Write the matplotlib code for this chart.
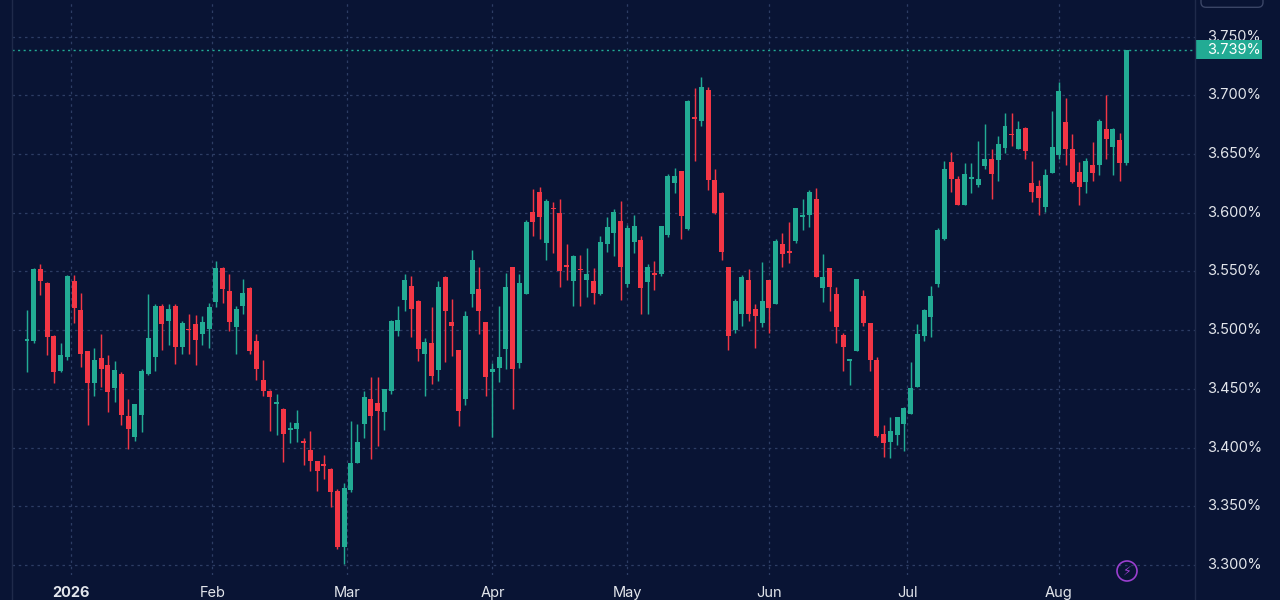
import matplotlib
matplotlib.use("Agg")
import matplotlib.pyplot as plt
import numpy as np
from matplotlib.patches import Rectangle, Circle, FancyBboxPatch
from matplotlib.lines import Line2D
from matplotlib.transforms import IdentityTransform

# ---------------- data (daily candles, yield in %) ----------------
opens = [3.491, 3.491, 3.552, 3.540, 3.495, 3.465, 3.477, 3.542, 3.517, 3.482,
         3.455, 3.476, 3.470, 3.451, 3.463, 3.427, 3.409, 3.428, 3.463, 3.477,
         3.521, 3.508, 3.521, 3.486, 3.501, 3.505, 3.497, 3.501, 3.524, 3.553,
         3.533, 3.503, 3.521, 3.536, 3.491, 3.458, 3.448, 3.437, 3.433, 3.415,
         3.416, 3.406, 3.398, 3.389, 3.386, 3.382, 3.363, 3.315, 3.364, 3.387,
         3.420, 3.441, 3.438, 3.430, 3.448, 3.499, 3.526, 3.538, 3.525, 3.480,
         3.489, 3.466, 3.545, 3.507, 3.483, 3.441, 3.531, 3.535, 3.507, 3.464,
         3.468, 3.484, 3.554, 3.472, 3.531, 3.601, 3.618, 3.574, 3.604, 3.600,
         3.555, 3.542, 3.552, 3.543, 3.542, 3.531, 3.573, 3.583, 3.593, 3.539,
         3.575, 3.577, 3.541, 3.549, 3.548, 3.581, 3.625, 3.636, 3.586, 3.682,
         3.678, 3.705, 3.628, 3.617, 3.554, 3.500, 3.514, 3.543, 3.518, 3.506,
         3.543, 3.522, 3.573, 3.567, 3.576, 3.596, 3.598, 3.612, 3.536, 3.553,
         3.531, 3.496, 3.474, 3.482, 3.529, 3.506, 3.475, 3.412, 3.405, 3.411,
         3.420, 3.429, 3.452, 3.495, 3.511, 3.539, 3.578, 3.643, 3.629, 3.607,
         3.629, 3.624, 3.640, 3.646, 3.645, 3.655, 3.667, 3.654, 3.672, 3.625,
         3.623, 3.605, 3.634, 3.649, 3.677, 3.654, 3.635, 3.626, 3.641, 3.641,
         3.671, 3.656, 3.662, 3.642]
highs = [3.517, 3.553, 3.556, 3.541, 3.496, 3.489, 3.547, 3.547, 3.532, 3.482,
         3.485, 3.497, 3.479, 3.474, 3.464, 3.441, 3.437, 3.467, 3.531, 3.522,
         3.522, 3.522, 3.522, 3.508, 3.514, 3.513, 3.512, 3.523, 3.559, 3.554,
         3.548, 3.521, 3.544, 3.537, 3.497, 3.475, 3.449, 3.446, 3.434, 3.422,
         3.432, 3.408, 3.414, 3.389, 3.394, 3.383, 3.365, 3.370, 3.423, 3.420,
         3.448, 3.460, 3.460, 3.450, 3.509, 3.521, 3.548, 3.546, 3.526, 3.493,
         3.520, 3.542, 3.546, 3.527, 3.483, 3.516, 3.568, 3.554, 3.507, 3.472,
         3.521, 3.549, 3.554, 3.548, 3.594, 3.620, 3.622, 3.612, 3.609, 3.612,
         3.573, 3.564, 3.564, 3.570, 3.553, 3.580, 3.596, 3.603, 3.610, 3.590,
         3.598, 3.580, 3.556, 3.559, 3.589, 3.633, 3.638, 3.636, 3.696, 3.706,
         3.716, 3.707, 3.637, 3.618, 3.554, 3.527, 3.547, 3.552, 3.522, 3.558,
         3.543, 3.578, 3.583, 3.592, 3.604, 3.612, 3.619, 3.621, 3.565, 3.553,
         3.537, 3.498, 3.475, 3.544, 3.534, 3.506, 3.477, 3.419, 3.426, 3.426,
         3.435, 3.473, 3.505, 3.518, 3.538, 3.587, 3.644, 3.652, 3.631, 3.642,
         3.642, 3.661, 3.676, 3.654, 3.665, 3.685, 3.685, 3.678, 3.673, 3.644,
         3.628, 3.637, 3.687, 3.711, 3.698, 3.667, 3.643, 3.647, 3.660, 3.680,
         3.700, 3.672, 3.668, 3.739]
lows = [3.464, 3.489, 3.530, 3.479, 3.455, 3.464, 3.475, 3.506, 3.469, 3.419,
        3.444, 3.452, 3.430, 3.439, 3.419, 3.399, 3.406, 3.413, 3.462, 3.465,
        3.483, 3.487, 3.471, 3.480, 3.480, 3.470, 3.487, 3.485, 3.520, 3.523,
        3.499, 3.480, 3.514, 3.480, 3.458, 3.444, 3.414, 3.411, 3.388, 3.404,
        3.405, 3.385, 3.380, 3.363, 3.373, 3.349, 3.314, 3.301, 3.362, 3.387,
        3.408, 3.390, 3.401, 3.415, 3.446, 3.495, 3.516, 3.494, 3.474, 3.444,
        3.454, 3.457, 3.473, 3.478, 3.418, 3.436, 3.520, 3.497, 3.444, 3.409,
        3.456, 3.467, 3.433, 3.468, 3.531, 3.580, 3.578, 3.560, 3.566, 3.537,
        3.543, 3.521, 3.521, 3.528, 3.522, 3.530, 3.567, 3.563, 3.526, 3.537,
        3.566, 3.514, 3.514, 3.534, 3.546, 3.579, 3.617, 3.578, 3.585, 3.644,
        3.674, 3.619, 3.599, 3.560, 3.483, 3.498, 3.504, 3.508, 3.485, 3.503,
        3.498, 3.522, 3.554, 3.557, 3.574, 3.585, 3.588, 3.545, 3.524, 3.516,
        3.489, 3.465, 3.453, 3.482, 3.504, 3.465, 3.409, 3.392, 3.391, 3.402,
        3.397, 3.429, 3.452, 3.491, 3.494, 3.537, 3.577, 3.618, 3.607, 3.607,
        3.617, 3.622, 3.637, 3.612, 3.627, 3.651, 3.657, 3.654, 3.646, 3.609,
        3.598, 3.601, 3.634, 3.646, 3.641, 3.625, 3.607, 3.617, 3.627, 3.632,
        3.646, 3.632, 3.627, 3.641]
closes = [3.492, 3.552, 3.542, 3.494, 3.464, 3.479, 3.546, 3.519, 3.480, 3.455,
          3.475, 3.467, 3.447, 3.466, 3.428, 3.416, 3.437, 3.465, 3.493, 3.521,
          3.505, 3.518, 3.486, 3.506, 3.500, 3.492, 3.507, 3.520, 3.553, 3.535,
          3.507, 3.518, 3.532, 3.482, 3.467, 3.448, 3.443, 3.439, 3.412, 3.416,
          3.421, 3.404, 3.389, 3.380, 3.384, 3.362, 3.315, 3.366, 3.387, 3.405,
          3.443, 3.427, 3.431, 3.450, 3.508, 3.509, 3.543, 3.518, 3.484, 3.490,
          3.461, 3.537, 3.516, 3.504, 3.431, 3.512, 3.560, 3.516, 3.460, 3.467,
          3.477, 3.537, 3.467, 3.540, 3.592, 3.592, 3.596, 3.610, 3.603, 3.550,
          3.554, 3.563, 3.551, 3.548, 3.532, 3.575, 3.588, 3.601, 3.554, 3.587,
          3.589, 3.536, 3.554, 3.547, 3.589, 3.631, 3.631, 3.597, 3.695, 3.680,
          3.707, 3.628, 3.600, 3.567, 3.495, 3.525, 3.545, 3.514, 3.512, 3.525,
          3.519, 3.576, 3.565, 3.566, 3.604, 3.598, 3.618, 3.545, 3.545, 3.537,
          3.503, 3.486, 3.475, 3.544, 3.506, 3.475, 3.410, 3.404, 3.414, 3.426,
          3.434, 3.451, 3.497, 3.517, 3.529, 3.585, 3.637, 3.629, 3.607, 3.633,
          3.630, 3.629, 3.646, 3.633, 3.659, 3.674, 3.666, 3.671, 3.653, 3.618,
          3.613, 3.632, 3.656, 3.704, 3.654, 3.626, 3.622, 3.644, 3.634, 3.678,
          3.663, 3.671, 3.642, 3.739]

month_labels = ["2026", "Feb", "Mar", "Apr", "May", "Jun", "Jul", "Aug"]
month_start_bar = [6.5, 27.5, 47.5, 69, 89, 110, 130.5, 153]
price_ticks = [3.30, 3.35, 3.40, 3.45, 3.50, 3.55, 3.60, 3.65, 3.70, 3.75]
last_price_label = "3.739%"

# ---------------- style ----------------
BG = "#091434"
UP = "#22ab94"
DOWN = "#f23645"
GRID = "#2d3d64"
TXT = "#e3e6ec"
plt.rcParams["font.family"] = ["Inter", "DejaVu Sans"]

fig = plt.figure(figsize=(12.8, 6.0), dpi=100, facecolor=BG)
ax = fig.add_axes([12 / 1280, 25 / 600, 1183 / 1280, 575 / 600])
ax.set_facecolor(BG)

o = np.array(opens); h = np.array(highs); l = np.array(lows); c = np.array(closes)
x = np.arange(len(o))
col = np.where(c >= o, UP, DOWN)

# grid
for v in price_ticks:
    ax.axhline(v, color=GRID, lw=0.9, ls=(0, (2, 3)), zorder=0)
for m in month_start_bar:
    ax.axvline(m, color=GRID, lw=0.9, ls=(0, (2, 3)), zorder=0)

# candles
ax.vlines(x, l, h, colors=col, lw=1.05, zorder=2)
bottoms = np.minimum(o, c)
heights = np.maximum(np.abs(c - o), 0.0013)
ax.bar(x, heights, width=0.74, bottom=bottoms, color=col, lw=0, zorder=3)

ax.set_xlim(-2.224, 173.17)
ax.set_ylim(3.29148, 3.78126)
ax.set_xticks([]); ax.set_yticks([])
for s in ax.spines.values():
    s.set_visible(False)

# last price line
ax.axhline(closes[-1], color=UP, lw=1.0, ls=(0, (1.5, 2.5)), zorder=1)

# right price scale
ytr = ax.get_yaxis_transform()
for v in price_ticks:
    ax.text(1.0101, v, f"{v:.3f}%", transform=ytr, ha="left", va="center",
            color=TXT, fontsize=10.5, clip_on=False)
box_h = 19 / 1174
ax.add_patch(Rectangle((1.0008, closes[-1] - box_h / 2), 0.0558, box_h,
                       transform=ytr, facecolor=UP, edgecolor="none",
                       clip_on=False, zorder=5))
ax.text(1.0101, closes[-1], last_price_label, transform=ytr, ha="left",
        va="center", color="white", fontsize=10.5, clip_on=False, zorder=6)

# time scale labels
xtr = ax.get_xaxis_transform()
for lab, m in zip(month_labels, month_start_bar):
    ax.text(m, -0.031, lab, transform=xtr, ha="center", va="center",
            color=TXT, fontsize=10.5, clip_on=False,
            fontweight="bold" if lab == "2026" else "normal")

# pane borders
fig.add_artist(Line2D([12 / 1280, 12 / 1280], [0, 1], color="#1f2a4a", lw=1,
                      transform=fig.transFigure))
fig.add_artist(Line2D([1195 / 1280, 1195 / 1280], [0, 1], color="#1f2a4a", lw=1,
                      transform=fig.transFigure))

# top-right button outline
fig.add_artist(FancyBboxPatch((1201, 592.7), 62, 20,
                              boxstyle="round,pad=0,rounding_size=5",
                              transform=IdentityTransform(), facecolor="none",
                              edgecolor="#3a4566", lw=1))

# lightning icon
fig.add_artist(Circle((1127, 29), 10, transform=IdentityTransform(),
                      facecolor="none", edgecolor="#9b3fd0", lw=1.2))
fig.text(1127 / 1280, 29 / 600, "\u26a1", ha="center", va="center",
         color="#9b3fd0", fontsize=9, family=["DejaVu Sans"])

fig.savefig("out.png", dpi=100, facecolor=BG)
